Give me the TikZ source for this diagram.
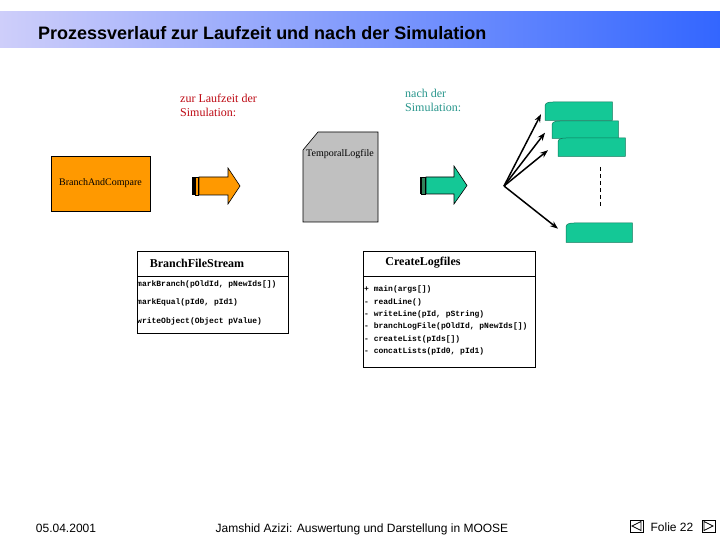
\documentclass[tikz,border=0pt]{standalone}
\usepackage{fontspec}
\setmainfont{Liberation Serif}
\newfontfamily\arialf{Liberation Sans}
\newfontfamily\monof{Liberation Mono}
\usetikzlibrary{arrows.meta,calc}
\definecolor{orangec}{RGB}{255,153,0}
\definecolor{tealc}{RGB}{20,200,150}
\definecolor{greyc}{RGB}{192,192,192}
\definecolor{barL}{RGB}{206,206,250}
\definecolor{barR}{RGB}{51,102,255}
\definecolor{redtxt}{RGB}{190,10,20}
\definecolor{tealtxt}{RGB}{40,150,140}
\definecolor{darkgreen}{RGB}{50,130,90}
\newcommand\greenbox[1]{\filldraw[fill=tealc,draw=tealc!60!black,line width=0.5pt] (#1.south west) -- ($(#1.north west)+(0,4)$) .. controls ($(#1.north west)+(0,1)$) and ($(#1.north west)+(3,0)$) .. ($(#1.north west)+(8,0)$) -- (#1.north east) -- (#1.south east) -- cycle;}
\begin{document}
\begin{tikzpicture}[x=1pt,y=-1pt,
  method/.style={anchor=west,inner sep=0pt,font=\monof\bfseries\fontsize{8}{9}\selectfont},
  classtitle/.style={inner sep=0pt,font=\bfseries\fontsize{12}{14}\selectfont},
  classbox/.style={draw=black,line width=0.6pt,anchor=north west,inner sep=0pt},
  gnode/.style={anchor=north west,inner sep=0pt},
  small/.style={inner sep=0pt,font=\fontsize{10}{12}\selectfont},
  note/.style={anchor=north west,inner sep=0pt,align=left,font=\fontsize{12}{14}\selectfont},
  hubarrow/.style={-{Stealth[length=8pt,width=6pt]},line width=1.5pt},
  foot/.style={anchor=base,inner sep=0pt,font=\arialf\fontsize{12}{14}\selectfont}]
\useasboundingbox (0,0) rectangle (720,540);
\fill[white] (0,0) rectangle (720,540);
% title bar
\shade[left color=barL,right color=barR] (0,12) rectangle (720,48);
\node[anchor=base west,inner sep=0pt,font=\arialf\bfseries\fontsize{18}{20}\selectfont] (title) at (38,40) {Prozessverlauf zur Laufzeit und nach der Simulation};
% notes
\node[note,text=redtxt] (zur) at (180,94) {zur Laufzeit der\\Simulation:};
\node[note,text=tealtxt] (nach) at (405,89) {nach der\\Simulation:};
% BranchAndCompare
\node[draw=black,fill=orangec,line width=0.6pt,minimum width=99pt,minimum height=55pt,inner sep=0pt,font=\fontsize{10}{12}\selectfont] (bac) at (100.5,183.5) {BranchAndCompare};
% orange arrow
\fill[black] (192,177) rectangle (194.5,195);
\draw[fill=orangec,line width=0.6pt] (195.5,177) rectangle (198.5,195);
\draw[fill=orangec,line width=0.6pt] (199,177) -- (228,177) -- (228,168) -- (240,186) -- (228,204) -- (228,195) -- (199,195) -- cycle;
% Temporal logfile
\draw[fill=greyc,line width=0.6pt] (303,150) -- (318,132) -- (378,132) -- (378,222) -- (303,222) -- cycle;
\node[small] (tlog) at (340,154) {TemporalLogfile};
% teal arrow
\fill[black] (420,177) rectangle (421.5,194);
\draw[fill=darkgreen,line width=0.6pt] (421.5,177) rectangle (425,194);
\draw[fill=tealc,line width=0.6pt] (426,177) -- (454,177) -- (454,166) -- (467,185.5) -- (454,204) -- (454,194) -- (426,194) -- cycle;
% green boxes
\node[gnode,minimum width=67pt,minimum height=18pt] (g1) at (545,102) {};
\node[gnode,minimum width=66pt,minimum height=17pt] (g2) at (552,121) {};
\node[gnode,minimum width=67pt,minimum height=18pt] (g3) at (558,138) {};
\node[gnode,minimum width=66pt,minimum height=19pt] (g4) at (566,223) {};
\greenbox{g1}
\greenbox{g2}
\greenbox{g3}
\greenbox{g4}
\draw[dashed,dash pattern=on 4pt off 3pt,line width=0.6pt] (600,167) -- (600,207);
\coordinate (hub) at (504,186);
\draw[hubarrow] (hub) -- ($(g1.west)+(-4,3)$);
\draw[hubarrow] (hub) -- ($(g2.west)+(-7,3)$);
\draw[hubarrow] (hub) -- ($(g3.west)+(-10,3)$);
\draw[hubarrow] (hub) -- ($(g4.west)+(-8,-4)$);
% BranchFileStream class
\node[classbox,minimum width=151pt,minimum height=82pt] (bfs) at (137,251) {};
\draw[line width=0.6pt] (137,276) -- (288,276);
\node[classtitle] (bfst) at (197,263) {BranchFileStream};
\node[method] (m1) at (137,284) {markBranch(pOldId, pNewIds[])};
\node[method] (m2) at (137,302) {markEqual(pId0, pId1)};
\node[method] (m3) at (137,321) {writeObject(Object pValue)};
% CreateLogfiles class
\node[classbox,minimum width=172pt,minimum height=116pt] (cl) at (363,251) {};
\draw[line width=0.6pt] (363,276) -- (535,276);
\node[classtitle] (clt) at (423,263) {CreateLogfiles};
\node[method] (c1) at (364,289) {+ main(args[])};
\node[method] (c2) at (364,302) {- readLine()};
\node[method] (c3) at (364,314) {- writeLine(pId, pString)};
\node[method] (c4) at (364,326) {- branchLogFile(pOldId, pNewIds[])};
\node[method] (c5) at (364,339) {- createList(pIds[])};
\node[method] (c6) at (364,351) {- concatLists(pId0, pId1)};
% footer
\node[foot] (date) at (66,532) {05.04.2001};
\node[foot] (author) at (362,532) {Jamshid Azizi: Auswertung und Darstellung in MOOSE};
\node[foot] (folie) at (672,531) {Folie 22};
\draw[line width=0.7pt] (630,520) rectangle (643,532);
\draw[line width=0.7pt] (641,521.5) -- (632,526) -- (641,530.5) -- cycle;
\draw[line width=0.7pt] (702,520) rectangle (715,532);
\draw[line width=0.7pt] (704,521.5) -- (713,526) -- (704,530.5) -- cycle;
\end{tikzpicture}
\end{document}
